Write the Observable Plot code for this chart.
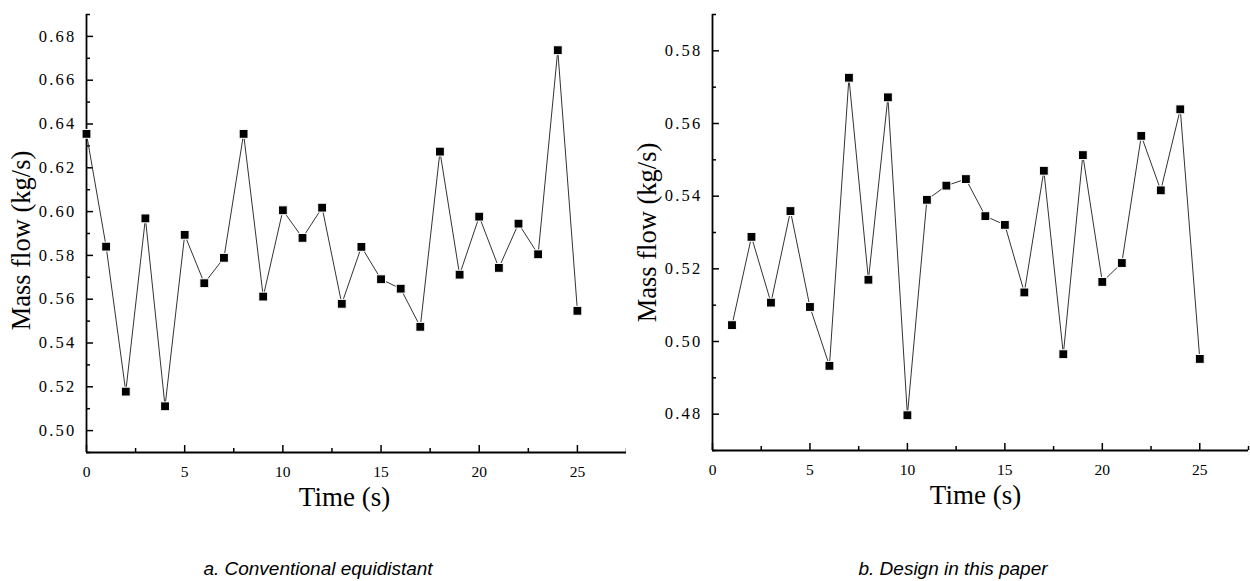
<!DOCTYPE html>
<html><head><meta charset="utf-8">
<script src="https://cdn.jsdelivr.net/npm/d3@7"></script>
<script src="https://cdn.jsdelivr.net/npm/@observablehq/plot@0.6"></script>
<style>
body{margin:0;background:#fff;}
#wrap{position:relative;width:1250px;height:581px;overflow:hidden;background:#fff;}
.fig{position:absolute;top:0;}
.cap{position:absolute;top:558px;font:italic 19px "Liberation Sans",Arial,sans-serif;color:#000;white-space:nowrap;transform:translateX(-50%);line-height:22px;}
</style></head><body>
<div id="wrap"></div>
<script>
// ---- data ----
const timeA = [0,1,2,3,4,5,6,7,8,9,10,11,12,13,14,15,16,17,18,19,20,21,22,23,24,25];
const massA = [0.6355,0.584,0.5178,0.5969,0.5111,0.5894,0.5673,0.5789,0.6355,0.5612,0.6006,0.588,0.6018,0.5579,0.5839,0.5691,0.5648,0.5474,0.6274,0.5712,0.5977,0.5743,0.5945,0.5805,0.6737,0.5547];
const timeB = [1,2,3,4,5,6,7,8,9,10,11,12,13,14,15,16,17,18,19,20,21,22,23,24,25];
const massB = [0.5045,0.5288,0.5107,0.5359,0.5095,0.4933,0.5726,0.5170,0.5672,0.4797,0.5390,0.5429,0.5447,0.5345,0.5321,0.5135,0.5470,0.4965,0.5513,0.5164,0.5216,0.5566,0.5416,0.5639,0.4952];

const xDomain = [0, 27.5];
const xTicks = [0,5,10,15,20,25];
const xMinor = [2.5,7.5,12.5,17.5,22.5,27.5];

const yDomainA = [0.49, 0.69];
const yTicksA = [0.50,0.52,0.54,0.56,0.58,0.60,0.62,0.64,0.66,0.68];
const yMinorA = [0.49,0.51,0.53,0.55,0.57,0.59,0.61,0.63,0.65,0.67,0.69];

const yDomainB = [0.47, 0.59];
const yTicksB = [0.48,0.50,0.52,0.54,0.56,0.58];
const yMinorB = [0.47,0.49,0.51,0.53,0.55,0.57,0.59];

const xLabel = "Time (s)";
const yLabel = "Mass flow (kg/s)";
const captionA = "a. Conventional equidistant";
const captionB = "b. Design in this paper";

const SERIF = '"Liberation Serif", "Times New Roman", serif';

function chart({time, mass, yDomain, yTicks, yMinor, width, marginLeft, marginRight, marginBottom, titleDx, ylabDy}) {
  const H = 520, mt = 14;
  const fw = width - marginLeft - marginRight, fh = H - mt - marginBottom;
  const data = time.map((t, i) => ({t, m: mass[i]}));
  const svg = Plot.plot({
    width, height: H, marginLeft, marginRight, marginTop: mt, marginBottom,
    style: {fontFamily: SERIF, color: "#000", background: "#fff", overflow: "visible"},
    x: {domain: xDomain},
    y: {domain: yDomain},
    marks: [
      Plot.axisX(xTicks, {tickSize: 0, tickPadding: 13, label: null, fontSize: 15.5, tickFormat: d => String(d)}),
      Plot.axisY(yTicks, {tickSize: 0, tickPadding: 10, label: null, fontSize: 16.5, tickFormat: d3.format(".2f")}),
      Plot.tickX(xTicks, {x: d => d, insetTop: fh - 7, strokeWidth: 1.5}),
      Plot.tickX(xMinor, {x: d => d, insetTop: fh - 4, strokeWidth: 1.5}),
      Plot.tickY(yTicks, {y: d => d, insetRight: fw - 7, strokeWidth: 1.5}),
      Plot.tickY(yMinor, {y: d => d, insetRight: fw - 4, strokeWidth: 1.5}),
      Plot.ruleX([xDomain[0]], {strokeWidth: 1.8}),
      Plot.ruleY([yDomain[0]], {strokeWidth: 1.8}),
      Plot.line(data, {x: "t", y: "m", stroke: "#333", strokeWidth: 1}),
      Plot.dot(data, {x: "t", y: "m", symbol: "square", r: 5, fill: "#000", stroke: "#fff", strokeWidth: 1}),
      Plot.text([yLabel], {frameAnchor: "left", textAnchor: "middle", lineAnchor: "middle", rotate: -90, dx: -65, dy: ylabDy, fontSize: 26.5, text: d => d}),
      Plot.text([xLabel], {frameAnchor: "bottom", textAnchor: "middle", lineAnchor: "middle", dy: 45, dx: titleDx, fontSize: 27, text: d => d})
    ]
  });
  const s = d3.select(svg);
  s.selectAll("text").style("font-family", SERIF);
  s.selectAll("g").each(function() {
    const lab = this.getAttribute("aria-label") || "";
    if (lab.indexOf("y-axis tick label") >= 0) {
      d3.select(this).selectAll("text").style("font-size", "16.5px").style("letter-spacing", "2.2px");
    } else if (lab.indexOf("x-axis tick label") >= 0) {
      d3.select(this).selectAll("text").style("font-size", "15.5px");
    }
  });
  return svg;
}

const wrap = document.getElementById("wrap");

function addFig(left, svg, capText, capX) {
  const f = document.createElement("div");
  f.className = "fig";
  f.style.left = left + "px";
  f.appendChild(svg);
  wrap.appendChild(f);
  const c = document.createElement("div");
  c.className = "cap";
  c.style.left = capX + "px";
  c.textContent = capText;
  wrap.appendChild(c);
}

addFig(0, chart({time: timeA, mass: massA, yDomain: yDomainA, yTicks: yTicksA, yMinor: yMinorA,
  width: 640, marginLeft: 86, marginRight: 14, marginBottom: 68, titleDx: -12, ylabDy: 7}), captionA, 318);

addFig(626, chart({time: timeB, mass: massB, yDomain: yDomainB, yTicks: yTicksB, yMinor: yMinorB,
  width: 624, marginLeft: 86, marginRight: 2, marginBottom: 70, titleDx: -5, ylabDy: 0}), captionB, 953);
</script>
</body></html>
